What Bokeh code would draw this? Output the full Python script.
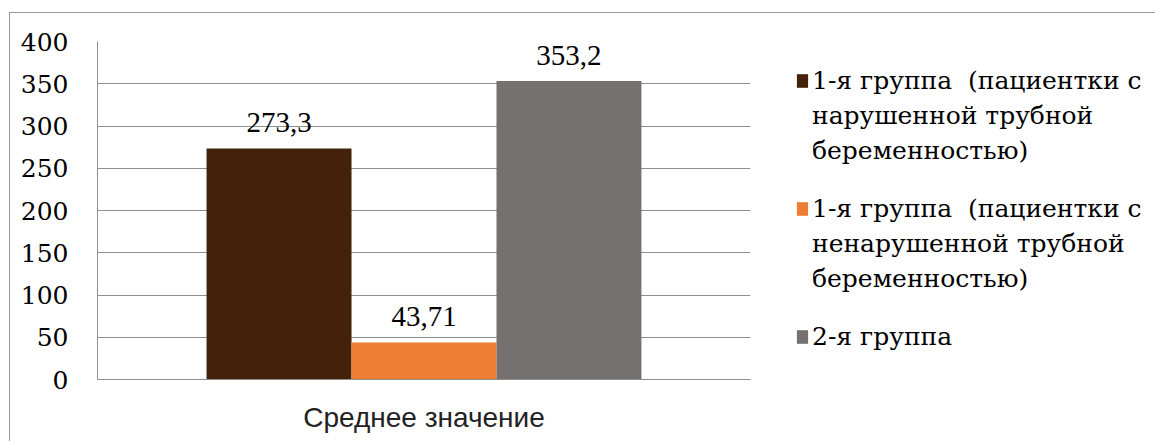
from bokeh.plotting import figure
from bokeh.layouts import row
from bokeh.models import (ColumnDataSource, FactorRange, Range1d, FixedTicker,
                          Legend, LegendItem, LabelSet)
from bokeh.core.properties import value
from bokeh.transform import dodge
from bokeh.embed import file_html
from bokeh.resources import INLINE

# ---- data ----
categories = ["Среднее значение"]
series_lines = [
    ["1-я группа  (пациентки с", "нарушенной трубной", "беременностью)"],
    ["1-я группа  (пациентки с", "ненарушенной трубной", "беременностью)"],
    ["2-я группа"],
]
series_values = [273.3, 43.71, 353.2]
value_labels = ["273,3", "43,71", "353,2"]
series_colors = ["#43210B", "#ED7D31", "#767171"]
y_ticks = [0, 50, 100, 150, 200, 250, 300, 350, 400]

SERIF = "DejaVu Serif"
SANS = "Liberation Sans"
GRID = "#8E8E8E"

H = 428
MAIN_W = 760
p = figure(
    x_range=FactorRange(factors=categories, range_padding=0),
    y_range=Range1d(0, 400),
    width=MAIN_W, height=H,
    min_border_left=87, min_border_right=20,
    min_border_top=25, min_border_bottom=62,
    output_backend="svg", toolbar_location=None,
)
p.outline_line_color = None
p.background_fill_color = "white"
p.border_fill_color = "white"

bar_w = 0.222
offsets = [-bar_w, 0.0, bar_w]
for val, lab, col, off in zip(series_values, value_labels, series_colors, offsets):
    src = ColumnDataSource(dict(cat=categories, val=[val], lab=[lab]))
    p.vbar(x=dodge("cat", off, range=p.x_range), top="val", width=bar_w,
           source=src, fill_color=col, line_color=None)
    p.add_layout(LabelSet(x=dodge("cat", off, range=p.x_range), y="val", text="lab",
                          source=src, y_offset=26, text_align="center",
                          text_baseline="middle", text_font=value("Liberation Serif"),
                          text_font_size="29px", text_color="black"))

# axes
p.yaxis.ticker = FixedTicker(ticks=y_ticks)
p.yaxis.major_tick_in = 0
p.yaxis.major_tick_out = 0
p.yaxis.minor_tick_in = 0
p.yaxis.minor_tick_out = 0
p.yaxis.major_label_standoff = 29
p.yaxis.major_label_text_font = SERIF
p.yaxis.major_label_text_font_size = "25px"
p.yaxis.major_label_text_color = "black"
p.yaxis.axis_line_color = GRID

p.xaxis.major_tick_in = 0
p.xaxis.major_tick_out = 0
p.xaxis.major_label_standoff = 22
p.xaxis.major_label_text_font = SANS
p.xaxis.major_label_text_font_size = "28px"
p.xaxis.major_label_text_color = "#222222"
p.xaxis.axis_line_color = GRID

p.xgrid.grid_line_color = None
p.ygrid.grid_line_color = GRID
p.ygrid.grid_line_width = 1

# ---- legend panel (separate canvas to the right of the plot) ----
LEG_W = 1155 - 10 - MAIN_W
q = figure(width=LEG_W, height=H, x_range=Range1d(0, 1), y_range=Range1d(0, 1),
           min_border_left=0, min_border_right=0, min_border_bottom=0,
           min_border_top=28, output_backend="svg", toolbar_location=None)
q.axis.visible = False
q.grid.visible = False
q.outline_line_color = None
q.border_fill_color = "white"

blank = q.vbar(x=[0], top=[0], width=0, fill_alpha=0, line_alpha=0)
items = []
for k, (lines, col) in enumerate(zip(series_lines, series_colors)):
    r = q.vbar(x=[0], top=[0], width=0, fill_color=col, line_color=None)
    items.append(LegendItem(label=lines[0], renderers=[r]))
    for ln in lines[1:]:
        items.append(LegendItem(label=ln, renderers=[blank]))
    if k < len(series_lines) - 1:
        items.append(LegendItem(label=" ", renderers=[blank]))

legend = Legend(
    items=items,
    location="top_left",
    label_text_font=SERIF, label_text_font_size="25px",
    label_text_line_height=1.2, label_text_color="black",
    glyph_width=14, glyph_height=17, label_standoff=3, label_height=0,
    padding=0, margin=25, border_line_color=None,
    background_fill_alpha=0, spacing=6, inactive_fill_alpha=0,
)
q.add_layout(legend, "center")

layout = row(p, q)
layout.styles = {"margin-left": "9px", "margin-top": "12px",
                 "border-top": "1px solid #9A9A9A", "border-left": "1px solid #9A9A9A"}

open("out.html", "w").write(file_html(layout, INLINE))
